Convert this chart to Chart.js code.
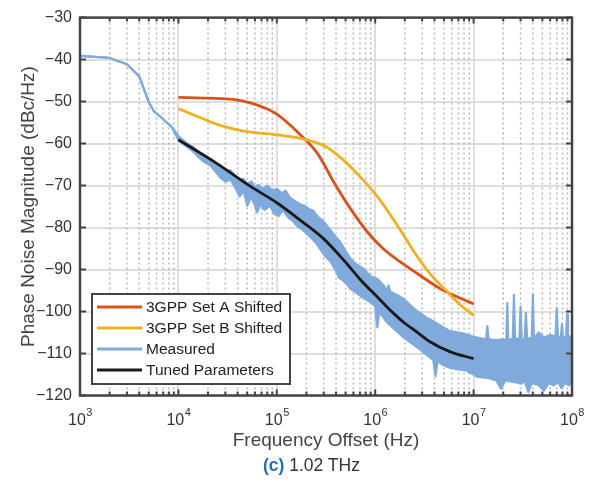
<!DOCTYPE html>
<html lang="en">
<head>
    <meta charset="UTF-8">
    <title>Phase Noise 1.02 THz</title>
    <script src="https://cdn.jsdelivr.net/npm/chart.js"></script>
    <style>
        body { margin: 0; background: #fff; }
        .wrap { position: relative; width: 596px; height: 483px; }
        #caption {
            position: absolute; left: 263px; top: 455px;
            font: 17.5px "Liberation Sans", Arial, sans-serif; color: #333;
        }
        #caption b { color: #2a6cb0; }
    </style>
</head>
<body>
    <div class="wrap">
        <canvas id="chart" width="596" height="483"></canvas>
        <div id="caption"><b>(c)</b> 1.02 THz</div>
    </div>
    <script>
        const FONT = '"Liberation Sans", Arial, sans-serif';

        // tick labels
        const xTickValues = [1e3, 1e4, 1e5, 1e6, 1e7, 1e8];
        const xTickExps = ['3', '4', '5', '6', '7', '8'];
        const yTickValues = [-120, -110, -100, -90, -80, -70, -60, -50, -40, -30];

        // 3GPP Set A Shifted
        const setAFreq = [1e4, 2e4, 3.6e4, 5.4e4, 7.5e4, 1e5, 1.7e5, 2.6e5, 3.8e5, 5.6e5, 8.3e5, 1.2e6, 1.8e6, 2.7e6, 4.6e6, 6.8e6, 1e7];
        const setAValues = [-49.0, -49.2, -49.5, -50.3, -51.5, -53.0, -57.7, -62.4, -69.2, -75.5, -81.0, -85.0, -88.2, -91.0, -94.6, -96.5, -98.2];

        // 3GPP Set B Shifted
        const setBFreq = [1e4, 1.66e4, 2.45e4, 3.6e4, 5.4e4, 1e5, 2e5, 3.2e5, 4.8e5, 5.6e5, 1.05e6, 1.8e6, 2.5e6, 3.6e6, 5.4e6, 7.3e6, 1e7];
        const setBValues = [-51.7, -53.8, -55.4, -56.5, -57.3, -57.9, -59.1, -60.8, -64.0, -65.5, -72.6, -80.6, -85.9, -91.0, -95.3, -98.4, -100.9];

        // Tuned Parameters
        const tunedFreq = [1e4, 2.45e4, 5.4e4, 1e5, 1.7e5, 3e5, 4.8e5, 7e5, 1.1e6, 1.5e6, 2e6, 2.7e6, 3.6e6, 5.8e6, 1e7];
        const tunedValues = [-59.1, -64.7, -70.2, -74.1, -78.1, -82.7, -87.8, -92.3, -97.0, -100.2, -102.8, -105.0, -107.2, -109.6, -111.2];

        // Measured: upper and lower edge of the noisy trace
        const measUpperFreq = [1e3, 2e3, 3e3, 4e3, 5e3, 5.6e3, 7e3, 8.6e3, 1e4, 1.2e4, 1.4e4, 1.6e4, 1.8e4, 2.1e4, 2.4e4, 2.7e4, 3e4, 3.4e4, 3.8e4, 4.2e4, 4.6e4, 5e4, 5.5e4, 6e4, 6.5e4, 7.2e4, 8e4, 9e4, 1e5, 1.12e5, 1.23e5, 1.35e5, 1.5e5, 1.7e5, 1.9e5, 2.1e5, 2.35e5, 2.6e5, 3e5, 3.4e5, 3.9e5, 4.4e5, 5e5, 5.6e5, 6.5e5, 7.6e5, 9e5, 1.05e6, 1.2e6, 1.32e6, 1.37e6, 1.42e6, 1.7e6, 1.95e6, 2.3e6, 2.7e6, 3.3e6, 3.9e6, 4.8e6, 5.7e6, 7e6, 8.4e6, 1e7, 1.2e7, 1.34e7, 1.38e7, 1.42e7, 1.7e7, 2e7, 2.15e7, 2.2e7, 2.25e7, 2.5e7, 2.57e7, 2.64e7, 2.92e7, 3e7, 3.08e7, 3.3e7, 3.4e7, 3.5e7, 3.9e7, 4e7, 4.1e7, 4.6e7, 5.2e7, 6e7, 6.8e7, 7e7, 7.2e7, 7.7e7, 7.9e7, 8.1e7, 8.7e7, 8.9e7, 9.1e7, 1e8];
        const measUpper = [-39.1, -39.6, -41.1, -44.0, -50.2, -52.2, -54.2, -56.1, -58.2, -59.8, -60.8, -62.0, -62.8, -63.8, -64.8, -65.6, -66.3, -66.4, -67.8, -68.6, -68.4, -69.6, -69.0, -70.4, -69.8, -70.8, -70.0, -71.2, -70.8, -71.8, -71.2, -72.8, -73.6, -74.4, -74.8, -75.5, -76.0, -77.4, -78.6, -80.2, -82.0, -83.4, -85.6, -87.4, -88.8, -89.8, -91.6, -92.2, -93.6, -95.0, -93.8, -95.2, -96.2, -97.0, -98.6, -100.0, -101.4, -102.3, -103.6, -104.6, -105.0, -105.4, -106.0, -106.4, -106.6, -103.5, -106.6, -106.8, -106.6, -106.8, -98.0, -106.8, -106.5, -96.0, -106.4, -106.6, -98.8, -106.6, -106.5, -100.3, -106.4, -106.4, -96.0, -106.4, -105.0, -106.2, -105.6, -106.0, -99.2, -106.0, -106.2, -103.0, -106.0, -106.2, -100.7, -106.0, -106.0];
        const measLowerFreq = [1e3, 2e3, 3e3, 4e3, 5e3, 5.6e3, 7e3, 8.6e3, 1e4, 1.2e4, 1.4e4, 1.6e4, 1.8e4, 2.1e4, 2.4e4, 2.7e4, 3e4, 3.4e4, 3.8e4, 4.2e4, 4.6e4, 5e4, 5.5e4, 6e4, 6.3e4, 6.8e4, 7.5e4, 8.5e4, 9.5e4, 1.05e5, 1.15e5, 1.3e5, 1.45e5, 1.6e5, 1.8e5, 2e5, 2.2e5, 2.5e5, 2.8e5, 3.1e5, 3.5e5, 4e5, 4.3e5, 4.7e5, 5.2e5, 5.6e5, 6.5e5, 7.6e5, 9e5, 1e6, 1.05e6, 1.1e6, 1.3e6, 1.6e6, 1.95e6, 2.3e6, 2.7e6, 3.3e6, 3.9e6, 4.1e6, 4.3e6, 4.8e6, 5.7e6, 7e6, 8.4e6, 1e7, 1.1e7, 1.4e7, 1.7e7, 1.9e7, 2.1e7, 2.6e7, 3e7, 3.3e7, 3.6e7, 3.9e7, 4.5e7, 5.2e7, 5.8e7, 6.5e7, 7.2e7, 7.8e7, 8.5e7, 9.3e7, 1e8];
        const measLower = [-39.1, -39.6, -41.1, -44.0, -50.2, -52.2, -54.2, -56.1, -59.2, -60.6, -61.8, -63.2, -64.3, -65.2, -66.8, -68.2, -69.0, -68.6, -70.6, -72.6, -71.2, -74.8, -72.6, -74.8, -76.4, -74.4, -75.8, -74.8, -76.8, -77.2, -75.8, -77.6, -78.4, -79.6, -80.4, -81.4, -82.3, -83.6, -85.4, -86.8, -88.0, -90.4, -92.0, -92.6, -93.6, -94.6, -95.6, -96.8, -97.8, -98.8, -103.8, -100.0, -102.4, -104.4, -106.2, -107.4, -108.6, -110.2, -111.6, -115.4, -111.8, -112.6, -113.4, -113.8, -114.0, -115.0, -115.6, -115.8, -116.4, -118.4, -116.4, -116.8, -117.2, -116.6, -119.2, -117.0, -117.4, -118.8, -117.0, -117.6, -116.8, -118.2, -117.0, -117.6, -117.0];

        const RED = '#d95319', YELLOW = '#edb120', BLUE = '#80aadc', BLACK = '#1a1a1a';

        function pts(xs, ys) {
            return xs.map((x, i) => ({ x: x, y: ys[i] }));
        }

        // minor grid, box, inward ticks, x tick labels and legend
        const axesDecor = {
            id: 'axesDecor',
            beforeDatasetsDraw(chart) {
                const { ctx, chartArea: a, scales: { x } } = chart;
                ctx.save();
                ctx.strokeStyle = '#b8b8b8';
                ctx.lineWidth = 1.5;
                ctx.setLineDash([2, 3]);
                for (let e = 3; e < 8; e++) {
                    for (let m = 2; m <= 9; m++) {
                        const px = x.getPixelForValue(m * Math.pow(10, e));
                        ctx.beginPath();
                        ctx.moveTo(px, a.top);
                        ctx.lineTo(px, a.bottom);
                        ctx.stroke();
                    }
                }
                ctx.restore();
            },
            afterDatasetsDraw(chart) {
                const { ctx, chartArea: a, scales: { x, y } } = chart;
                ctx.save();
                ctx.strokeStyle = '#444';
                ctx.lineWidth = 2;
                ctx.beginPath();
                for (let e = 3; e < 8; e++) {
                    for (let m = 1; m <= 9; m++) {
                        const px = x.getPixelForValue(m * Math.pow(10, e));
                        const len = m === 1 ? 6 : 4;
                        ctx.moveTo(px, a.bottom); ctx.lineTo(px, a.bottom - len);
                        ctx.moveTo(px, a.top); ctx.lineTo(px, a.top + len);
                    }
                }
                yTickValues.forEach(v => {
                    const py = y.getPixelForValue(v);
                    ctx.moveTo(a.left, py); ctx.lineTo(a.left + 6, py);
                    ctx.moveTo(a.right, py); ctx.lineTo(a.right - 6, py);
                });
                ctx.stroke();
                ctx.lineWidth = 2.5;
                ctx.strokeRect(a.left, a.top, a.right - a.left, a.bottom - a.top);
                ctx.restore();
            },
            afterDraw(chart) {
                const { ctx, scales: { x } } = chart;
                ctx.save();
                ctx.fillStyle = '#333';
                ctx.textBaseline = 'alphabetic';
                xTickValues.forEach((v, i) => {
                    ctx.font = '16px ' + FONT;
                    const wb = ctx.measureText('10').width;
                    ctx.font = '11px ' + FONT;
                    const we = ctx.measureText(xTickExps[i]).width;
                    const left = x.getPixelForValue(v) - (wb + we) / 2;
                    ctx.font = '16px ' + FONT;
                    ctx.fillText('10', left, 425);
                    ctx.font = '11px ' + FONT;
                    ctx.fillText(xTickExps[i], left + wb + 0.5, 416);
                });

                // legend box
                const bx = 92, by = 294, bw = 198, bh = 90;
                ctx.fillStyle = '#fff';
                ctx.fillRect(bx, by, bw, bh);
                ctx.strokeStyle = '#444';
                ctx.lineWidth = 2;
                ctx.strokeRect(bx, by, bw, bh);
                const items = chart.data.datasets.filter(d => d.label);
                items.sort((p, q) => p.legendIndex - q.legendIndex);
                ctx.font = '15.5px ' + FONT;
                ctx.textBaseline = 'middle';
                items.forEach((d, i) => {
                    const ry = 307 + i * 21;
                    ctx.strokeStyle = d.borderColor;
                    ctx.lineWidth = 2.8;
                    ctx.beginPath();
                    ctx.moveTo(97, ry); ctx.lineTo(142, ry);
                    ctx.stroke();
                    ctx.fillStyle = '#222';
                    ctx.fillText(d.label, 146, ry + 1);
                });
                ctx.restore();
            }
        };

        const ctx = document.getElementById('chart').getContext('2d');
        new Chart(ctx, {
            type: 'line',
            data: {
                datasets: [
                    { label: '3GPP Set A Shifted', legendIndex: 0, data: pts(setAFreq, setAValues), borderColor: RED, borderWidth: 2.8, cubicInterpolationMode: 'monotone', order: 2 },
                    { label: '3GPP Set B Shifted', legendIndex: 1, data: pts(setBFreq, setBValues), borderColor: YELLOW, borderWidth: 2.8, cubicInterpolationMode: 'monotone', order: 1 },
                    { label: 'Measured', legendIndex: 2, data: pts(measUpperFreq, measUpper), borderColor: BLUE, backgroundColor: BLUE, borderWidth: 2.2, fill: 4, order: 4 },
                    { label: 'Tuned Parameters', legendIndex: 3, data: pts(tunedFreq, tunedValues), borderColor: BLACK, borderWidth: 2.8, cubicInterpolationMode: 'monotone', order: 0 },
                    { label: '', data: pts(measLowerFreq, measLower), borderColor: BLUE, borderWidth: 2.2, fill: false, order: 5 }
                ]
            },
            options: {
                responsive: false,
                animation: false,
                devicePixelRatio: 1,
                layout: { padding: { top: 12, right: 24, left: 0, bottom: 0 } },
                elements: { point: { radius: 0 }, line: { borderJoinStyle: 'round' } },
                plugins: { legend: { display: false }, tooltip: { enabled: false } },
                scales: {
                    x: {
                        type: 'logarithmic',
                        min: 1e3,
                        max: 1e8,
                        afterBuildTicks: s => { s.ticks = xTickValues.map(v => ({ value: v })); },
                        afterFit: s => { s.height = 87.5; },
                        ticks: { display: false },
                        grid: { color: '#dedede', lineWidth: 2, drawTicks: false },
                        border: { display: false },
                        title: {
                            display: true,
                            text: 'Frequency Offset (Hz)',
                            color: '#444',
                            font: { size: 19, family: FONT },
                            padding: { top: 0, bottom: 31 }
                        }
                    },
                    y: {
                        min: -120,
                        max: -30,
                        afterFit: s => { s.width = 80; },
                        ticks: {
                            stepSize: 10,
                            padding: 8,
                            color: '#333',
                            font: { size: 16, family: FONT },
                            callback: v => String(v).replace('-', '\u2212')
                        },
                        grid: { color: '#dedede', lineWidth: 2, drawTicks: false },
                        border: { display: false },
                        title: {
                            display: true,
                            text: 'Phase Noise Magnitude (dBc/Hz)',
                            color: '#444',
                            font: { size: 19, family: FONT },
                            padding: { top: 17, bottom: 0 }
                        }
                    }
                }
            },
            plugins: [axesDecor]
        });
    </script>
</body>
</html>
